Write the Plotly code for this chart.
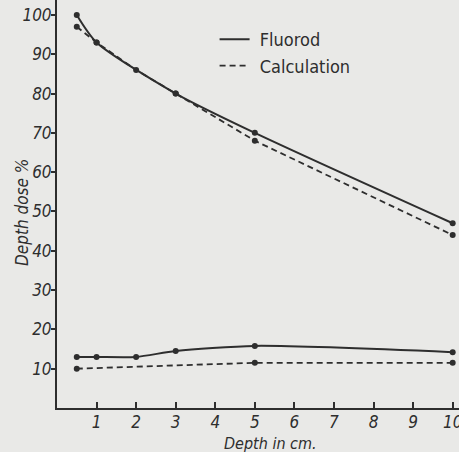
import plotly.graph_objects as go

# Depth (cm) and depth dose (%)
fl_hi_x = [0.5, 1, 3, 5, 10]
fl_hi_y = [100, 93, 80, 70, 47]
calc_hi_x = [0.5, 1, 2, 3, 5, 10]
calc_hi_y = [97, 93, 86, 80, 68, 44]
fl_lo_x = [0.5, 1, 2, 3, 5, 10]
fl_lo_y = [13, 13, 13, 14.5, 15.8, 14.2]
calc_lo_x = [0.5, 5, 10]
calc_lo_y = [10, 11.5, 11.5]

x_ticks = [1, 2, 3, 4, 5, 6, 7, 8, 9, 10]
y_ticks = [10, 20, 30, 40, 50, 60, 70, 80, 90, 100]

INK = "#2e2e2e"
PAPER = "#e9e9e7"
FONT = "Liberation Sans Narrow, DejaVu Sans Condensed, sans-serif"

solid = dict(color=INK, width=2, shape="spline", smoothing=0.7)
dashed = dict(color=INK, width=1.8, dash="6px,4px")

fig = go.Figure()
fig.add_trace(go.Scatter(x=fl_hi_x, y=fl_hi_y, mode="lines", name="\u00a0Fluorod", line=solid))
fig.add_trace(go.Scatter(x=calc_hi_x, y=calc_hi_y, mode="lines", name="\u00a0Calculation", line=dashed))
fig.add_trace(go.Scatter(x=fl_lo_x, y=fl_lo_y, mode="lines", showlegend=False, line=solid))
fig.add_trace(go.Scatter(x=calc_lo_x, y=calc_lo_y, mode="lines", showlegend=False, line=dashed))
for xs, ys in [(fl_hi_x, fl_hi_y), (calc_hi_x, calc_hi_y), (fl_lo_x, fl_lo_y), (calc_lo_x, calc_lo_y)]:
    fig.add_trace(go.Scatter(x=xs, y=ys, mode="markers", showlegend=False,
                             marker=dict(color=INK, size=6)))

# axis titles
fig.add_annotation(text="Depth in cm.", xref="paper", yref="paper", x=0.53, y=0,
                   yshift=-35, xanchor="center", yanchor="middle", showarrow=False,
                   font=dict(size=16, style="italic"))
fig.add_annotation(text="Depth dose %", xref="paper", yref="paper", x=-0.087, y=0.478,
                   xanchor="center", yanchor="middle", textangle=-90, showarrow=False,
                   font=dict(size=17, style="italic"))

fig.update_layout(
    width=459, height=452,
    paper_bgcolor=PAPER, plot_bgcolor=PAPER,
    margin=dict(l=57, r=0, t=0, b=44),
    font=dict(family=FONT, color=INK, size=16, style="italic"),
    legend=dict(x=0.392, y=0.9485, xanchor="left", yanchor="top",
                bgcolor="rgba(0,0,0,0)", font=dict(size=18, style="normal"),
                itemwidth=30, tracegroupgap=0),
    xaxis=dict(range=[0, 10.16], tickvals=x_ticks, ticktext=[str(v) for v in x_ticks],
               showgrid=False, zeroline=False, showline=True, linecolor=INK, linewidth=2,
               ticks="inside", ticklen=6, tickcolor=INK, tickwidth=1.5, automargin=False,
               ticklabeloverflow="allow", ticklabelstandoff=-2,
               tickfont=dict(size=17, style="italic")),
    yaxis=dict(range=[0, 103.8], tickvals=y_ticks, ticktext=[str(v) for v in y_ticks],
               showgrid=False, zeroline=False, showline=True, linecolor=INK, linewidth=2,
               ticks="outside", ticklen=4, tickcolor=INK, tickwidth=1.5, automargin=False,
               ticklabeloverflow="allow", ticklabelstandoff=-4,
               tickfont=dict(size=17, style="italic")),
)

# remove the browser's default 8px body margin so the figure fills the window exactly
fig.write_html("out.html", config={"displayModeBar": False},
               post_script="document.body.style.margin='0';document.body.style.overflow='hidden';")
